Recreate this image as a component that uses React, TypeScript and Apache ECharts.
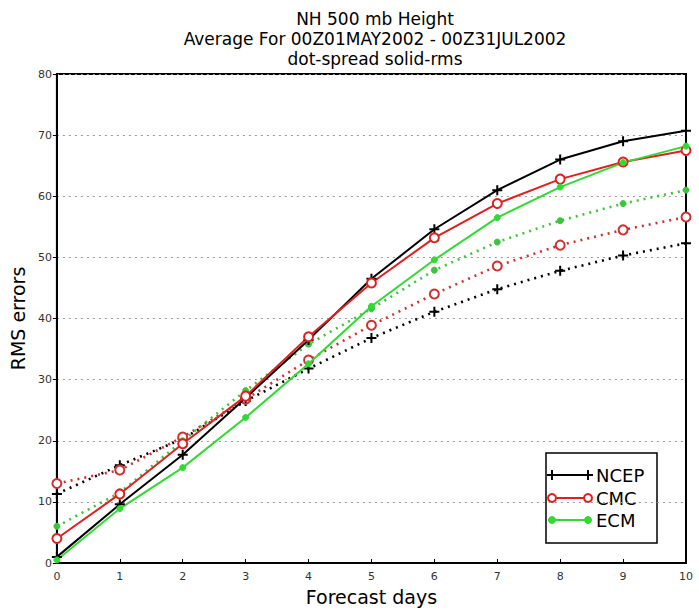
import React, { useEffect, useRef } from "react";
import * as echarts from "echarts";

const days = [0, 1, 2, 3, 4, 5, 6, 7, 8, 9, 10];
const yTicks = [0, 10, 20, 30, 40, 50, 60, 70, 80];

const ncepRms = [1.0, 9.6, 17.7, 27.0, 36.5, 46.5, 54.6, 61.0, 66.0, 69.0, 70.7];
const ncepSpread = [11.3, 16.0, 20.3, 26.5, 31.8, 36.8, 41.1, 44.8, 47.8, 50.3, 52.3];
const cmcRms = [4.0, 11.3, 19.5, 27.3, 37.0, 45.8, 53.2, 58.8, 62.8, 65.6, 67.5];
const cmcSpread = [13.0, 15.2, 20.6, 26.8, 33.2, 38.9, 44.0, 48.6, 52.0, 54.5, 56.6];
const ecmRms = [0.5, 8.9, 15.6, 23.8, 32.6, 42.0, 49.6, 56.5, 61.5, 65.5, 68.2];
const ecmSpread = [6.0, 11.5, 20.0, 28.2, 35.8, 41.6, 47.9, 52.5, 56.0, 58.8, 61.0];

const titleLines = ["NH 500 mb Height", "Average For 00Z01MAY2002 - 00Z31JUL2002", "dot-spread solid-rms"];
const legendNames = ["NCEP", "CMC", "ECM"];

const BLACK = "#000000";
const RED = "#e02020";
const RED_DOT = "#d03030";
const GREEN = "#33d933";
const GREEN_DOT = "#3cc43c";
const PLUS = "path://M5,0L5,10M0,5L10,5";
const FONT = "DejaVu Sans";

function pairs(v: number[]) {
  return days.map((d, i) => [d, v[i]]);
}

export default function App() {
  const ref = useRef<HTMLDivElement>(null);
  useEffect(() => {
    if (!ref.current) return;
    const chart = echarts.init(ref.current, undefined, { renderer: "svg" });

    const mk = (name: string, data: number[], color: string, dotted: boolean, kind: string) => {
      const base: any = {
        name,
        type: "line",
        data: pairs(data),
        lineStyle: dotted
          ? { color, width: 2.6, type: [2, 5] }
          : { color, width: 2 },
        itemStyle: { color, borderColor: color },
        showSymbol: true,
        z: dotted ? 3 : 4,
        clip: false,
      };
      if (kind === "plus") {
        base.symbol = PLUS;
        base.symbolSize = 10;
        base.itemStyle = { color: "none", borderColor: color, borderWidth: 2 };
      } else if (kind === "circle") {
        base.symbol = "emptyCircle";
        base.symbolSize = 9;
        base.itemStyle = { color, borderColor: color, borderWidth: 2 };
      } else {
        base.symbol = "circle";
        base.symbolSize = 6;
      }
      return base;
    };

    const lx = 552, rx = 588, tx = 596;
    const rowsY = [475, 498, 520];
    const legendChildren: any[] = [
      { type: "rect", shape: { x: 546, y: 453, width: 111, height: 90 }, style: { fill: "#fff", stroke: "#000", lineWidth: 1.5 } },
    ];
    const cols = [BLACK, RED, GREEN];
    rowsY.forEach((y, i) => {
      legendChildren.push({ type: "line", shape: { x1: lx, y1: y, x2: rx, y2: y }, style: { stroke: cols[i], lineWidth: 2 } });
      [lx, rx].forEach((x) => {
        if (i === 0) {
          legendChildren.push({ type: "line", shape: { x1: x, y1: y - 5, x2: x, y2: y + 5 }, style: { stroke: BLACK, lineWidth: 2 } });
          legendChildren.push({ type: "line", shape: { x1: x - 5, y1: y, x2: x + 5, y2: y }, style: { stroke: BLACK, lineWidth: 2 } });
        } else if (i === 1) {
          legendChildren.push({ type: "circle", shape: { cx: x, cy: y, r: 4 }, style: { fill: "#fff", stroke: RED, lineWidth: 2 } });
        } else {
          legendChildren.push({ type: "circle", shape: { cx: x, cy: y, r: 3.5 }, style: { fill: GREEN, stroke: GREEN, lineWidth: 1 } });
        }
      });
      legendChildren.push({
        type: "text",
        style: { x: tx, y, text: legendNames[i], fill: "#000", font: `18px "${FONT}"`, verticalAlign: "middle", textAlign: "left" },
      });
    });

    chart.setOption({
      animation: false,
      backgroundColor: "#ffffff",
      title: {
        text: titleLines.join("\n"),
        left: 370,
        top: 4,
        textAlign: "center",
        textStyle: { fontFamily: FONT, fontSize: 17, fontWeight: "normal", color: "#000", lineHeight: 20 },
      },
      grid: { left: 56, right: 13, top: 74, bottom: 52, show: true, borderColor: "#000", borderWidth: 2, backgroundColor: "transparent" },
      xAxis: {
        type: "value",
        min: days[0],
        max: days[days.length - 1],
        interval: 1,
        name: "Forecast days",
        nameLocation: "middle",
        nameGap: 24,
        nameTextStyle: { fontFamily: FONT, fontSize: 19, color: "#000" },
        axisLine: { show: true, lineStyle: { color: "#000", width: 2 } },
        axisTick: { show: true, inside: true, length: 4, lineStyle: { color: "#000" } },
        axisLabel: { fontFamily: FONT, fontSize: 11, color: "#333", margin: 8 },
        splitLine: { show: false },
      },
      yAxis: {
        type: "value",
        min: yTicks[0],
        max: yTicks[yTicks.length - 1],
        interval: 10,
        name: "RMS errors",
        nameLocation: "middle",
        nameGap: 26,
        nameTextStyle: { fontFamily: FONT, fontSize: 19, color: "#000" },
        axisLine: { show: true, lineStyle: { color: "#000", width: 2 } },
        axisTick: { show: true, inside: false, length: 4, lineStyle: { color: "#000" } },
        axisLabel: { fontFamily: FONT, fontSize: 11, color: "#333", margin: 5 },
        splitLine: { show: true, lineStyle: { color: "#999", type: [2, 4], width: 1 } },
      },
      series: [
        mk("NCEP spread", ncepSpread, BLACK, true, "plus"),
        mk("CMC spread", cmcSpread, RED_DOT, true, "circle"),
        mk("ECM spread", ecmSpread, GREEN_DOT, true, "dot"),
        mk("NCEP", ncepRms, BLACK, false, "plus"),
        mk("CMC", cmcRms, RED, false, "circle"),
        mk("ECM", ecmRms, GREEN, false, "dot"),
      ],
      graphic: [{ type: "group", z: 100, children: legendChildren }],
    });
    return () => chart.dispose();
  }, []);
  return <div ref={ref} style={{ position: "fixed", left: 0, top: 0, width: 699, height: 615 }} />;
}
